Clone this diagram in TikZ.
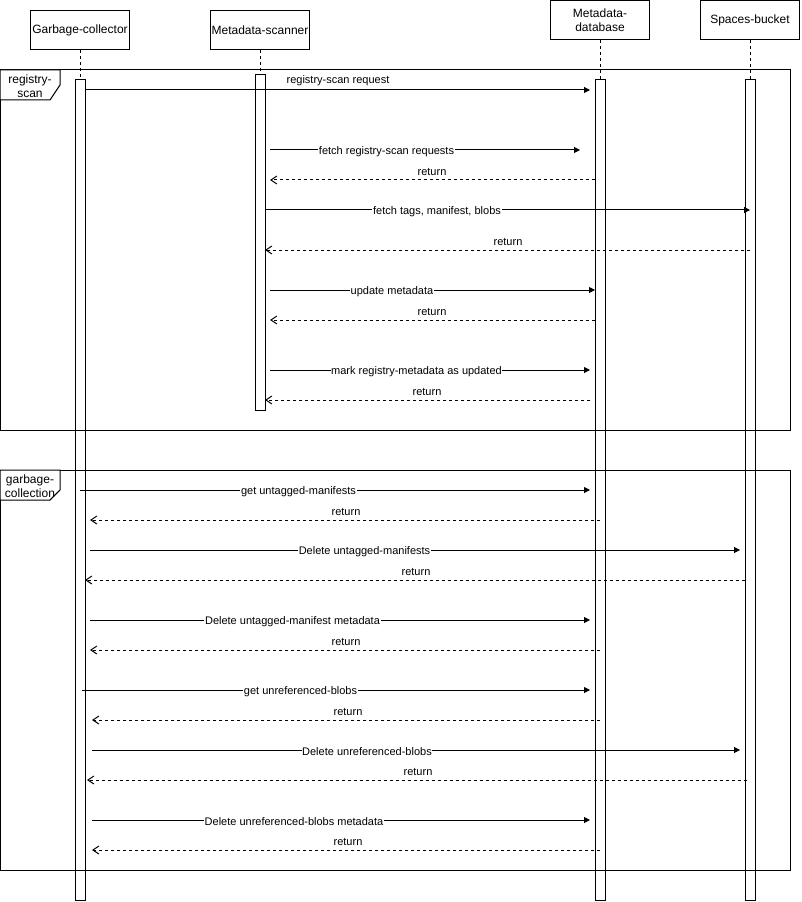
\documentclass[tikz,border=0pt]{standalone}
\usepackage{fontspec}
\setmainfont{Liberation Sans}
\usetikzlibrary{arrows.meta}
\newcommand\inmsg[6]{%
  \coordinate (#1a) at (#2,#4); \coordinate (#1b) at (#3,#4);
  \draw[msg] (#1a) -- (#1b);
  \node[lbl,fill=white] (#1t) at (#5,#4+1.5) {#6};}
\newcommand\retmsg[6]{%
  \coordinate (#1a) at (#2,#4); \coordinate (#1b) at (#3,#4);
  \draw[ret] (#1a) -- (#1b);
  \node[lbl] (#1t) at (#5,#4-8) {#6};}
\begin{document}
\begin{tikzpicture}[x=0.75pt,y=-0.75pt,line width=0.75pt,
  part/.style={draw,fill=white,minimum width=74.25pt,minimum height=29.25pt,inner sep=1pt,
    font=\fontsize{9}{10.5}\selectfont,align=center},
  act/.style={draw,fill=white},
  life/.style={dash pattern=on 2.25pt off 2.25pt},
  msg/.style={-{Triangle[length=4.5pt,width=4.5pt]}},
  ret/.style={dash pattern=on 2.25pt off 2.25pt,-{Straight Barb[length=4.5pt,width=6pt]}},
  lbl/.style={font=\fontsize{8.25}{9}\selectfont,inner sep=0.5pt},
  frlbl/.style={font=\fontsize{9}{10.5}\selectfont,align=center,inner sep=0pt},
  frame/.style={draw}]
\useasboundingbox (0,0) rectangle (801,902);
% participants
\node[part] (gc) at (80,30) {Garbage-collector};
\node[part] (ms) at (260,30) {Metadata-scanner};
\node[part] (md) at (600,20) {Metadata-\\database};
\node[part] (sb) at (750,20) {Spaces-bucket};
% lifelines
\coordinate (gcA) at (80,80);
\coordinate (msA) at (260,75);
\coordinate (mdA) at (600,80);
\coordinate (sbA) at (750,80);
\draw[life] (gc.south) -- (gcA);
\draw[life] (ms.south) -- (msA);
\draw[life] (md.south) -- (mdA);
\draw[life] (sb.south) -- (sbA);
% activations
\draw[act] (75,80) rectangle (85,900);
\draw[act] (255,75) rectangle (265,410);
\draw[act] (595,80) rectangle (605,900);
\draw[act] (745,80) rectangle (755,900);
% frames
\draw[frame] (0,70) rectangle (790,430);
\draw[frame,fill=white] (0,70) -- (60,70) -- (60,85) -- (50,100) -- (0,100) -- cycle;
\node[frlbl] (f1) at (30,86) {registry-\\scan};
\draw[frame] (0,470) rectangle (790,870);
\draw[frame,fill=white] (0,470) -- (60,470) -- (60,490) -- (50,500) -- (0,500) -- cycle;
\node[frlbl] (f2) at (30,486) {garbage-\\collection};
\draw (60,490) -- (50,500);
% registry-scan messages
\coordinate (m1a) at (85,90); \coordinate (m1b) at (590,90);
\draw[msg] (m1a) -- (m1b);
\node[lbl] (m1t) at (338,80.5) {registry-scan request};
\inmsg{m2}{270}{580}{150}{386.5}{fetch registry-scan requests}
\retmsg{m3}{595}{270}{180}{432}{return}
\inmsg{m4}{265}{750}{210}{437}{fetch tags, manifest, blobs}
\retmsg{m5}{750}{265}{250}{508}{return}
\inmsg{m6}{270}{595}{290}{392}{update metadata}
\retmsg{m7}{595}{270}{320}{432}{return}
\inmsg{m8}{270}{590}{370}{416.5}{mark registry-metadata as updated}
\retmsg{m9}{590}{265}{400}{427}{return}
% garbage-collection messages
\inmsg{g1}{80}{590}{490}{298.5}{get untagged-manifests}
\retmsg{g2}{600}{90}{520}{346}{return}
\inmsg{g3}{90}{740}{550}{364.5}{Delete untagged-manifests}
\retmsg{g4}{745}{85}{580}{416}{return}
\inmsg{g5}{90}{590}{620}{292.5}{Delete untagged-manifest metadata}
\retmsg{g6}{600}{90}{650}{346}{return}
\inmsg{g7}{82}{590}{690}{300.5}{get unreferenced-blobs}
\retmsg{g8}{600}{92}{720}{348}{return}
\inmsg{g9}{92}{740}{750}{367}{Delete unreferenced-blobs}
\retmsg{g10}{747}{87}{780}{418}{return}
\inmsg{g11}{92}{590}{820}{294}{Delete unreferenced-blobs metadata}
\retmsg{g12}{600}{92}{850}{348}{return}
\end{tikzpicture}
\end{document}
